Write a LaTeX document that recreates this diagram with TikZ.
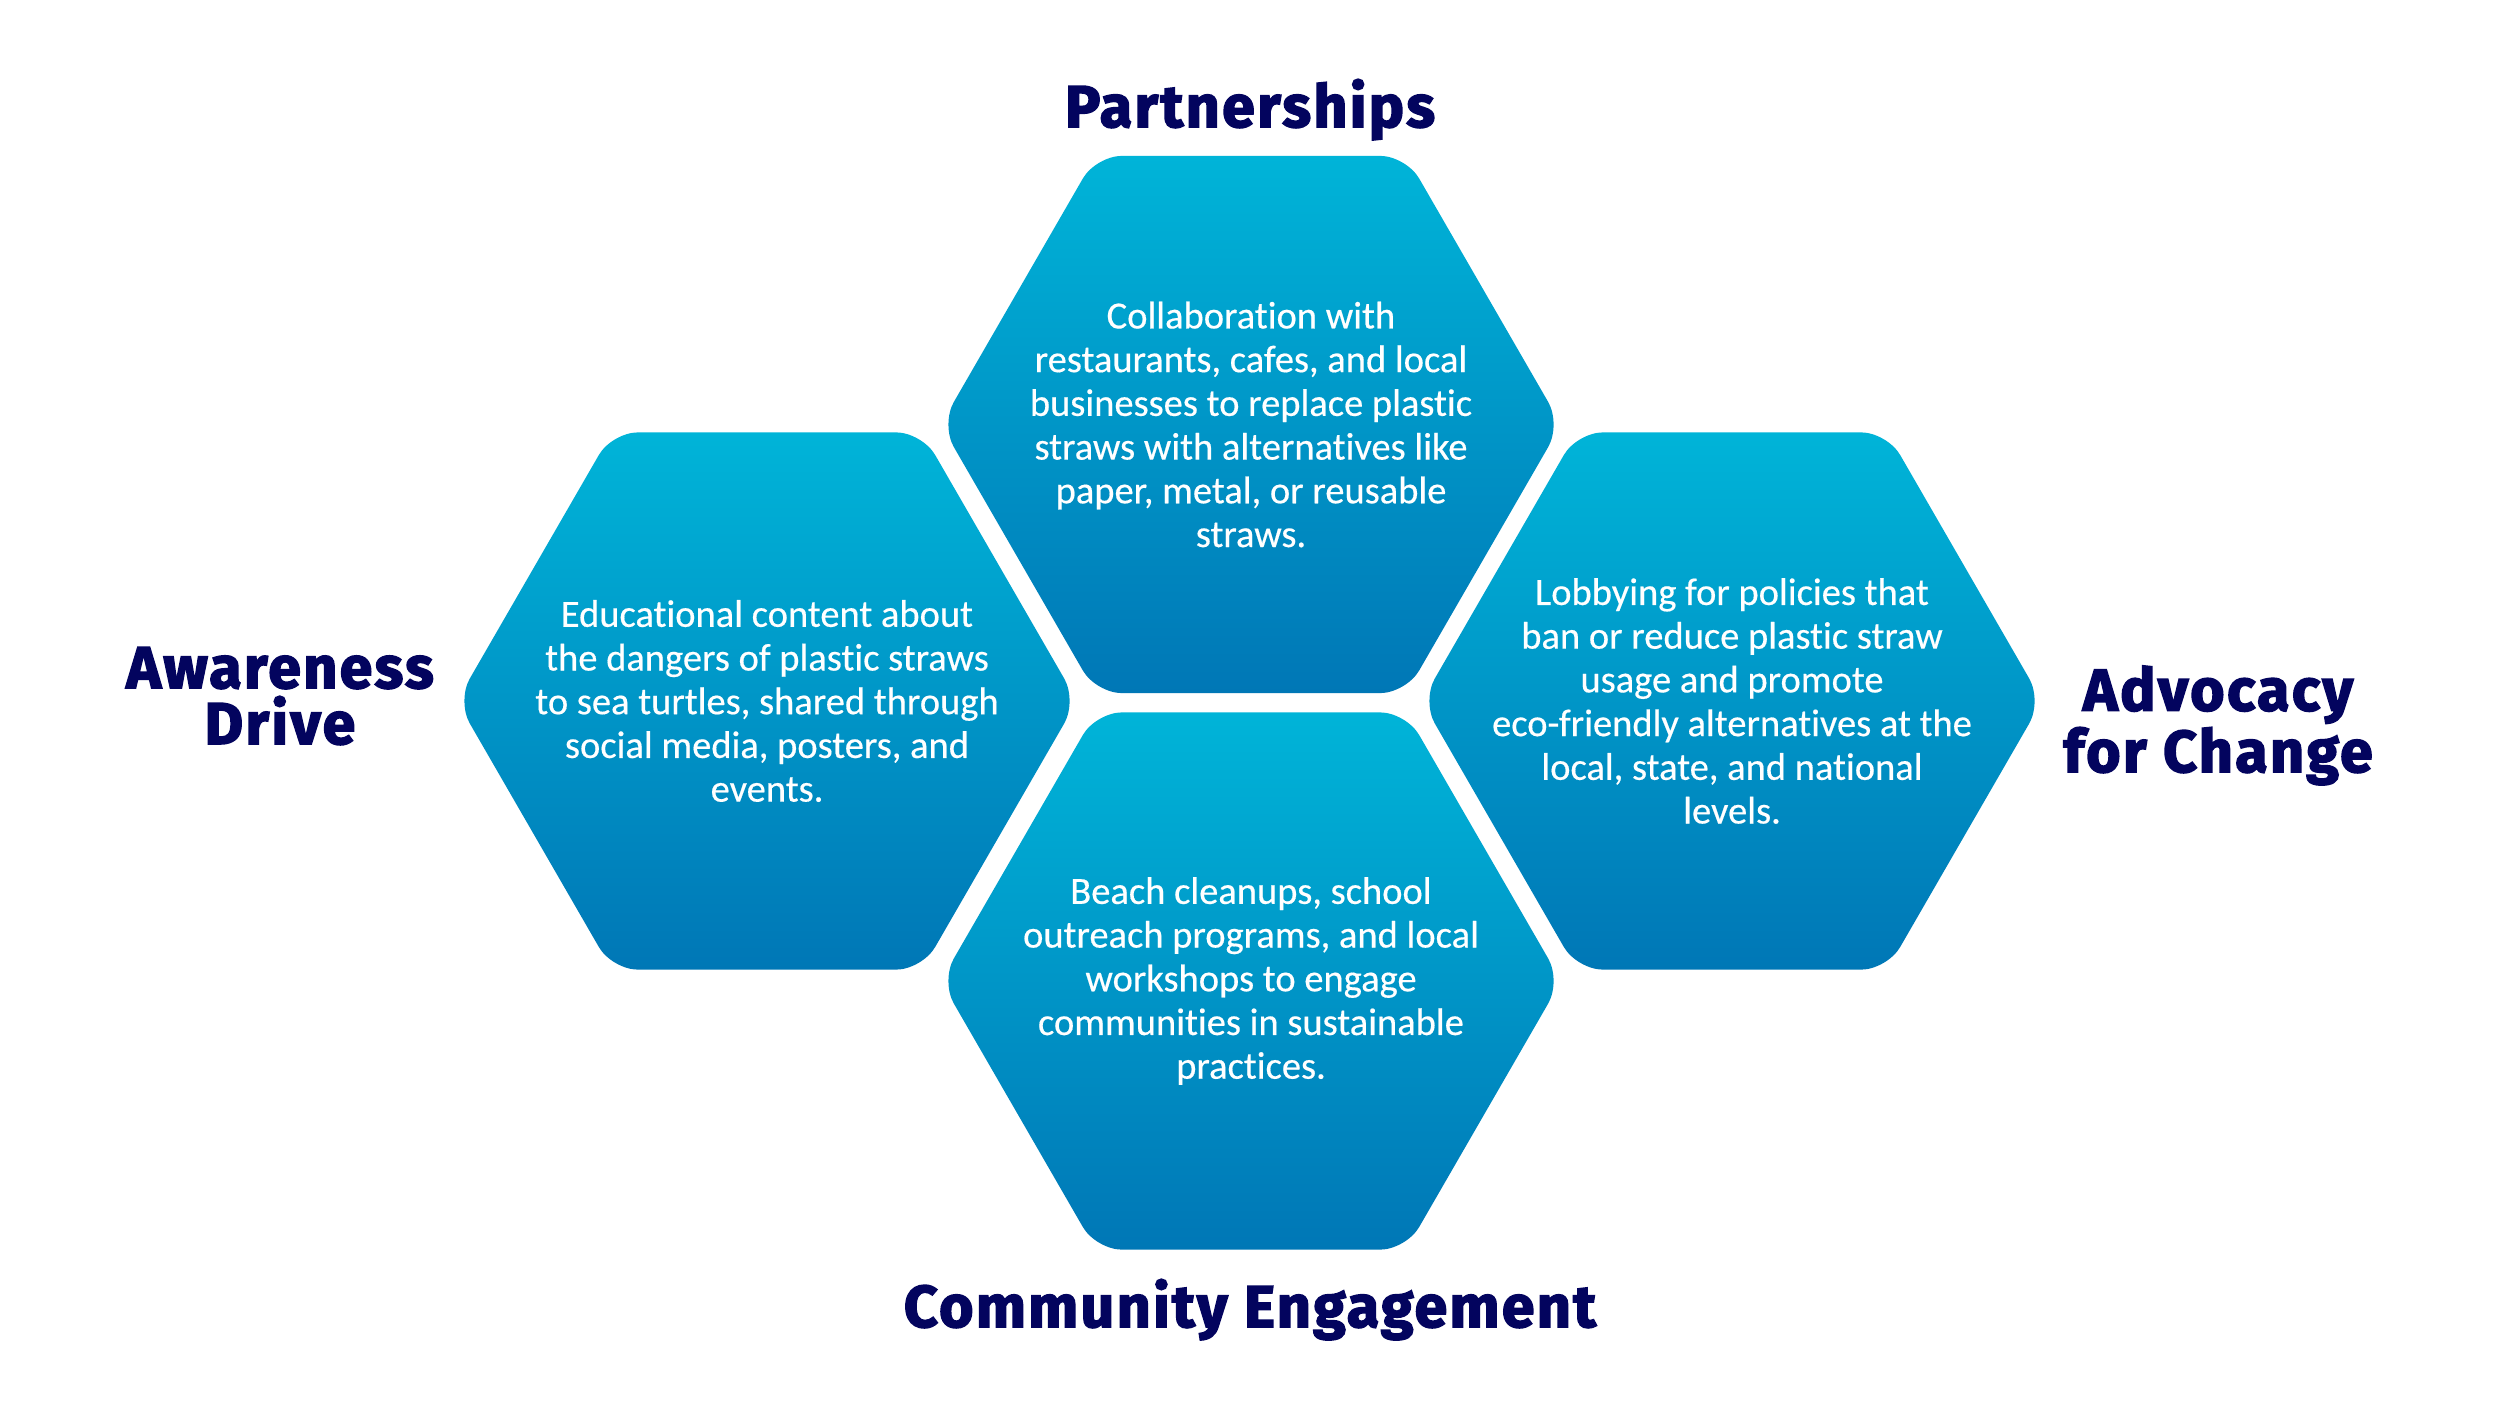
\documentclass[tikz,border=0pt]{standalone}
\usepackage{fontspec}
\setmainfont{Carlito}[Ligatures=NoCommon,FakeBold=0.4]
\newfontfamily\headfont{Fira Sans}[BoldFeatures={FakeBold=2.6,LetterSpace=4}]
\usetikzlibrary{shapes.geometric}
\definecolor{hextop}{HTML}{00B4D8}
\definecolor{hexbot}{HTML}{0077B6}
\definecolor{navy}{HTML}{03045E}
\begin{document}
\begin{tikzpicture}[x=0.01cm,y=-0.01cm,
  hexa/.style={regular polygon, regular polygon sides=6, minimum size=6.2cm, inner sep=0pt, outer sep=0pt, rounded corners=0.26cm, top color=hextop, bottom color=hexbot, draw=none},
  body/.style={align=center, text=white, inner sep=0pt, font=\fontsize{10.95}{12.43}\selectfont},
  head/.style={align=center, text=navy, inner sep=0pt, anchor=base, font=\headfont\bfseries\fontsize{16.8}{15.9}\selectfont}]
\fill[white] (0,0) rectangle (2500,1406);
\useasboundingbox (0,0) rectangle (2500,1406);

\node[hexa] (top) at (1251,424.5) {};
\node[hexa] (left) at (767,701) {};
\node[hexa] (right) at (1732,701) {};
\node[hexa] (bottom) at (1251,981) {};

\node[body] (ttop) at (top.center) {Collaboration with\\restaurants, cafes, and local\\businesses to replace plastic\\straws with alternatives like\\paper, metal, or reusable\\straws.};
\node[body] (tleft) at (left.center) {Educational content about\\the dangers of plastic straws\\to sea turtles, shared through\\social media, posters, and\\events.};
\node[body] (tright) at (right.center) {Lobbying for policies that\\ban or reduce plastic straw\\usage and promote\\eco-friendly alternatives at the\\local, state, and national\\levels.};
\node[body] (tbottom) at (bottom.center) {Beach cleanups, school\\outreach programs, and local\\workshops to engage\\communities in sustainable\\practices.};

\node[head] (hp) at (1250,127) {Partnerships};
\node[head] (ha) at (280,744) {Awareness\\Drive};
\node[head] (hc) at (2218,772) {Advocacy\\for Change};
\node[head] (hb) at (1250,1327) {Community Engagement};
\end{tikzpicture}
\end{document}
